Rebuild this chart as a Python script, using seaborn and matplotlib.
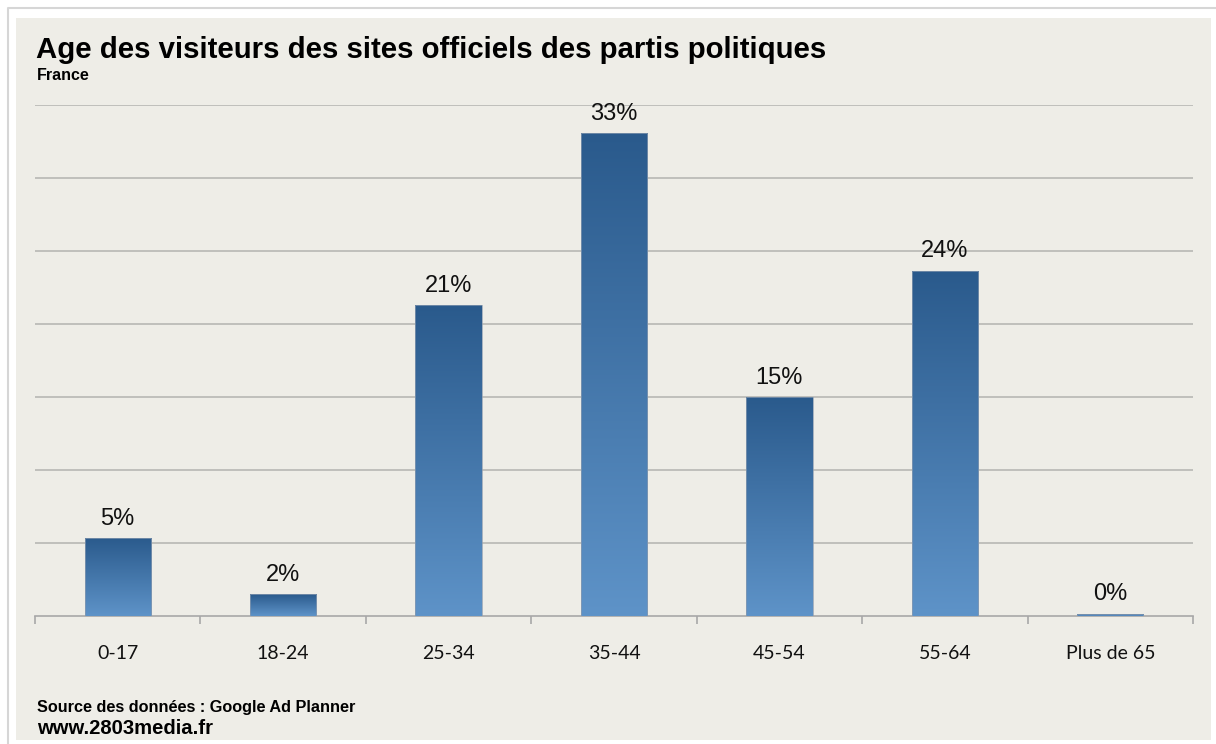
import numpy as np
import pandas as pd
import matplotlib
matplotlib.use("Agg")
import matplotlib.pyplot as plt
import seaborn as sns
from matplotlib.colors import LinearSegmentedColormap
from matplotlib.patches import Rectangle
from matplotlib.lines import Line2D

# Données
categories = ["0-17", "18-24", "25-34", "35-44", "45-54", "55-64", "Plus de 65"]
values = [5.35, 1.5, 21.3, 33.05, 15.0, 23.65, 0.15]
labels = ["5%", "2%", "21%", "33%", "15%", "24%", "0%"]

df = pd.DataFrame({"age": categories, "pct": values})

W, H = 1216, 744
sns.set_theme(style="white")
plt.rcParams["font.family"] = ["Liberation Sans", "DejaVu Sans"]

fig = plt.figure(figsize=(W / 100, H / 100), dpi=100)
fig.patch.set_facecolor("white")

def px(x, y):
    return x / W, 1 - y / H

# cadre extérieur (haut + gauche) + panneau beige
fig.lines.append(Line2D([8 / W, 8 / W, 1], [0, 1 - 7.5 / H, 1 - 7.5 / H], transform=fig.transFigure,
                        color="#d6d6d6", lw=1.5, zorder=-2))
fig.patches.append(Rectangle(px(16, 740), (1211 - 16) / W, (740 - 18) / H, transform=fig.transFigure,
                             facecolor="#eeede7", edgecolor="none", zorder=-1))

l, b = px(35, 616)
r, t = px(1193, 105)
ax = fig.add_axes([l, b, r - l, t - b])
ax.set_facecolor("none")
ax.set_zorder(2)

sns.barplot(data=df, x="age", y="pct", width=0.4, color="#3f72a8", ax=ax, zorder=3)

ax.set_xlim(-0.5, 6.5)
ax.set_ylim(0, 35)

# dégradé vertical dans chaque barre
cmap = LinearSegmentedColormap.from_list("bleu", ["#5e93c8", "#2a5a8c"])
grad = np.linspace(0, 1, 256).reshape(-1, 1)
for p in ax.patches:
    x0, y0, w, h = p.get_x(), p.get_y(), p.get_width(), p.get_height()
    im = ax.imshow(grad, extent=[x0, x0 + w, y0, y0 + h], aspect="auto", cmap=cmap,
                   origin="lower", zorder=3, interpolation="bilinear")
    im.set_clip_path(p)
    p.set_facecolor("none")
    p.set_edgecolor("#8a9bb0")
    p.set_linewidth(0.5)
    p.set_zorder(4)

ax.set_xlim(-0.5, 6.5)
ax.set_ylim(0, 35)

for i, (v, lab) in enumerate(zip(values, labels)):
    ax.annotate(lab, (i, v), xytext=(0, 6), textcoords="offset points",
                ha="center", va="bottom", fontsize=17, color="#111111")

# grille
ax.set_yticks(np.arange(5, 36, 5))
ax.yaxis.grid(True, color="#bcbcb8", lw=1.3)
ax.set_axisbelow(True)
ax.tick_params(axis="y", left=False, labelleft=False)

for s in ["top", "right", "left"]:
    ax.spines[s].set_visible(False)
ax.spines["bottom"].set_color("#a8a8a8")
ax.spines["bottom"].set_linewidth(1.2)

ax.set_xticks(range(len(categories)))
ax.set_xticklabels(categories, fontsize=14, family=["Lato", "DejaVu Sans"], color="#111111")
ax.set_xticks(np.arange(-0.5, 7, 1), minor=True)
ax.tick_params(axis="x", which="major", length=0, pad=21)
ax.tick_params(axis="x", which="minor", length=6, width=1.2, color="#a8a8a8", bottom=True, direction="out")
ax.set_xlabel("")
ax.set_ylabel("")

fig.text(*px(36, 58), "Age des visiteurs des sites officiels des partis politiques",
         fontsize=21.2, fontweight="bold", color="black", va="baseline")
fig.text(*px(37, 80), "France", fontsize=11.5, fontweight="bold", color="black", va="baseline")
fig.text(*px(37, 712), "Source des données : Google Ad Planner", fontsize=11.7,
         fontweight="bold", color="black", va="baseline")
fig.text(*px(37, 734), "www.2803media.fr", fontsize=14.6, fontweight="bold",
         color="black", va="baseline")

fig.savefig("out.png", dpi=100, facecolor="white")
